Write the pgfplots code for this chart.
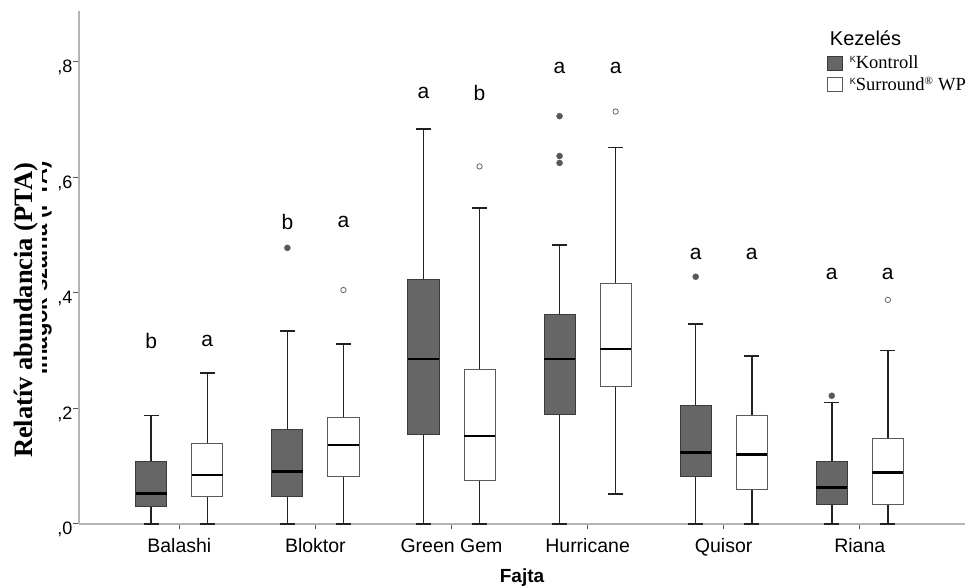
\documentclass[border=0pt]{standalone}
\usepackage{fontspec}
\setmainfont{Liberation Sans}
\newfontfamily\timesfont{Liberation Serif}
\usepackage{pgfplots}
\pgfplotsset{compat=1.18}
\usepgfplotslibrary{statistics}

\definecolor{kgray}{HTML}{666666}
\definecolor{kedge}{HTML}{3A3A3A}
\definecolor{sedge}{HTML}{5A5A5A}
\definecolor{axgray}{HTML}{B4B4B4}
\definecolor{tickgray}{HTML}{555555}
\definecolor{whisk}{HTML}{222222}

\pgfplotsset{
  kbox/.style={fill=kgray, draw=kedge, line width=0.9pt},
  sbox/.style={fill=white, draw=sedge, line width=0.9pt},
  kout/.style={only marks, mark=*, mark size=3pt, mark options={fill=kgray!85!black, draw=kgray!85!black}},
  sout/.style={only marks, mark=o, mark size=2.7pt, mark options={draw=kgray, line width=0.8pt}},
}
\tikzset{sig/.style={font=\fontsize{21}{24}\selectfont, anchor=center}}
\newcommand{\kmark}{\raisebox{0.75ex}{\normalfont\fontsize{9}{9}\selectfont K}}

\begin{document}
\begin{tikzpicture}
\begin{axis}[
    scale only axis,
    width=886pt,
    height=513pt,
    xmin=-0.737, xmax=5.773,
    ymin=0, ymax=0.888,
    axis x line=bottom,
    axis y line=left,
    axis line style={draw=axgray, line width=1.3pt, -},
    xtick={0,...,5},
    xticklabels={Balashi,Bloktor,Green Gem,Hurricane,Quisor,Riana},
    ytick={0,0.2,0.4,0.6,0.8},
    yticklabels={{,0},{,2},{,4},{,6},{,8}},
    tick align=outside,
    major tick length=5.5pt,
    tick style={draw=tickgray, line width=1pt},
    xticklabel style={font=\fontsize{19.5}{22}\selectfont, anchor=base, inner sep=0pt, yshift=-23pt},
    yticklabel style={font=\fontsize{18}{20}\selectfont, anchor=base east, inner sep=0pt, xshift=-1pt, yshift=-11pt},
    xlabel={\bfseries Fajta},
    xlabel style={font=\fontsize{19}{22}\selectfont, at={(rel axis cs:0.5,0)}, anchor=base, yshift=-59pt},
    boxplot/draw direction=y,
    boxplot/box extend=0.228,
    boxplot/whisker extend=0.11,
    boxplot/every median/.style={draw=black, line width=2.4pt},
    boxplot/every whisker/.style={draw=whisk, line width=1.6pt},
    legend style={at={(rel axis cs:0.844,0.915)}, anchor=north west, draw=none, fill=none,
      inner sep=0pt, row sep=5pt, font=\timesfont\fontsize{18.5}{20}\selectfont,
      nodes={inner sep=1pt}},
    legend cell align=left,
    legend image code/.code={\draw[#1, line width=0.9pt] (0pt,-7pt) rectangle (15pt,7pt);},
    clip=false,
]

\addlegendimage{fill=kgray, draw=kedge}
\addlegendentry{\hspace{6pt}\kmark Kontroll}
\addlegendimage{fill=white, draw=sedge}
\addlegendentry{\hspace{6pt}\kmark Surround\textsuperscript{\fontsize{11}{11}\selectfont\textregistered} WP}

% Balashi
\addplot[kbox, boxplot prepared={draw position=-0.206, lower whisker=0, lower quartile=0.031, median=0.053, upper quartile=0.1085, upper whisker=0.188}] coordinates {};
\addplot[sbox, boxplot prepared={draw position=0.206, lower whisker=0, lower quartile=0.047, median=0.085, upper quartile=0.140, upper whisker=0.261}] coordinates {};
% Bloktor
\addplot[kbox, boxplot prepared={draw position=0.794, lower whisker=0, lower quartile=0.047, median=0.091, upper quartile=0.163, upper whisker=0.334}] coordinates {};
\addplot[sbox, boxplot prepared={draw position=1.206, lower whisker=0, lower quartile=0.082, median=0.137, upper quartile=0.184, upper whisker=0.312}] coordinates {};
% Green Gem
\addplot[kbox, boxplot prepared={draw position=1.794, lower whisker=0, lower quartile=0.155, median=0.286, upper quartile=0.4225, upper whisker=0.684}] coordinates {};
\addplot[sbox, boxplot prepared={draw position=2.206, lower whisker=0, lower quartile=0.076, median=0.152, upper quartile=0.267, upper whisker=0.547}] coordinates {};
% Hurricane
\addplot[kbox, boxplot prepared={draw position=2.794, lower whisker=0, lower quartile=0.190, median=0.286, upper quartile=0.362, upper whisker=0.483}] coordinates {};
\addplot[sbox, boxplot prepared={draw position=3.206, lower whisker=0.052, lower quartile=0.238, median=0.303, upper quartile=0.416, upper whisker=0.652}] coordinates {};
% Quisor
\addplot[kbox, boxplot prepared={draw position=3.794, lower whisker=0, lower quartile=0.082, median=0.1235, upper quartile=0.205, upper whisker=0.346}] coordinates {};
\addplot[sbox, boxplot prepared={draw position=4.206, lower whisker=0, lower quartile=0.060, median=0.120, upper quartile=0.1876, upper whisker=0.291}] coordinates {};
% Riana
\addplot[kbox, boxplot prepared={draw position=4.794, lower whisker=0, lower quartile=0.0346, median=0.063, upper quartile=0.1085, upper whisker=0.210}] coordinates {};
\addplot[sbox, boxplot prepared={draw position=5.206, lower whisker=0, lower quartile=0.0335, median=0.089, upper quartile=0.148, upper whisker=0.300}] coordinates {};

% outliers
\addplot[kout] coordinates {(0.794,0.478) (2.794,0.706) (2.794,0.637) (2.794,0.625) (3.794,0.428) (4.794,0.222)};
\addplot[sout] coordinates {(1.206,0.405) (2.206,0.619) (3.206,0.714) (5.206,0.388)};

% significance letters
\node[sig] at (axis cs:-0.206,0.316) {b};
\node[sig] at (axis cs:0.206,0.316) {a};
\node[sig] at (axis cs:0.794,0.523) {b};
\node[sig] at (axis cs:1.206,0.523) {a};
\node[sig] at (axis cs:1.794,0.746) {a};
\node[sig] at (axis cs:2.206,0.746) {b};
\node[sig] at (axis cs:2.794,0.789) {a};
\node[sig] at (axis cs:3.206,0.789) {a};
\node[sig] at (axis cs:3.794,0.4675) {a};
\node[sig] at (axis cs:4.206,0.4675) {a};
\node[sig] at (axis cs:4.794,0.432) {a};
\node[sig] at (axis cs:5.206,0.432) {a};

% legend title
\node[anchor=base, font=\fontsize{20}{22}\selectfont] at (axis cs:5.042,0.829) {Kezelés};

% y labels (one partly hidden behind the other)
\node[rotate=90, anchor=base, font=\bfseries\fontsize{22}{24}\selectfont] at (axis cs:-0.972,0.443) {Imágók száma (PTA)};
\node[rotate=90, anchor=center, fill=white, inner xsep=2pt, inner ysep=3.5pt, font=\timesfont\bfseries\fontsize{26.5}{28}\selectfont] at (axis cs:-1.126,0.370) {Relatív abundancia (PTA)};
\end{axis}
\pgfresetboundingbox
\path (current axis.south west) ++(-79pt,-64pt) rectangle ++(970pt,588pt);
\end{tikzpicture}
\end{document}
